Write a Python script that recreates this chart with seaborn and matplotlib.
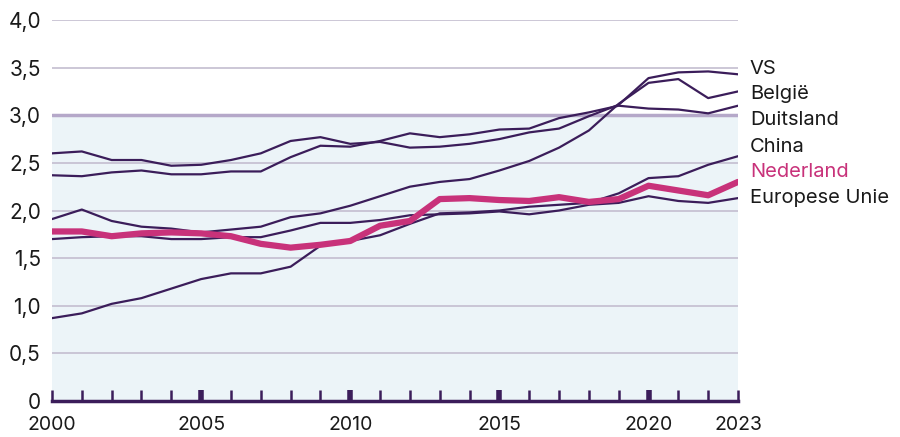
import numpy as np
import pandas as pd
import seaborn as sns
import matplotlib
matplotlib.use("Agg")
import matplotlib.pyplot as plt
from matplotlib.ticker import FuncFormatter, MultipleLocator

years = list(range(2000, 2024))
vs = [2.60, 2.62, 2.53, 2.53, 2.47, 2.48, 2.53, 2.60, 2.73, 2.77, 2.70, 2.72,
      2.66, 2.67, 2.70, 2.75, 2.82, 2.86, 2.99, 3.11, 3.39, 3.45, 3.46, 3.43]
belgie = [1.91, 2.01, 1.89, 1.83, 1.81, 1.77, 1.80, 1.83, 1.93, 1.97, 2.05, 2.15,
          2.25, 2.30, 2.33, 2.42, 2.52, 2.66, 2.84, 3.12, 3.34, 3.38, 3.18, 3.25]
duitsland = [2.37, 2.36, 2.40, 2.42, 2.38, 2.38, 2.41, 2.41, 2.56, 2.68, 2.67, 2.73,
             2.81, 2.77, 2.80, 2.85, 2.86, 2.97, 3.03, 3.10, 3.07, 3.06, 3.02, 3.10]
china = [0.87, 0.92, 1.02, 1.08, 1.18, 1.28, 1.34, 1.34, 1.41, 1.63, 1.68, 1.74,
         1.86, 1.97, 1.98, 2.00, 2.04, 2.06, 2.08, 2.18, 2.34, 2.36, 2.48, 2.57]
nederland = [1.78, 1.78, 1.73, 1.76, 1.77, 1.76, 1.73, 1.65, 1.61, 1.64, 1.68, 1.84,
             1.89, 2.12, 2.13, 2.11, 2.10, 2.14, 2.09, 2.12, 2.26, 2.21, 2.16, 2.30]
eu = [1.70, 1.72, 1.73, 1.73, 1.70, 1.70, 1.72, 1.72, 1.79, 1.87, 1.87, 1.90,
      1.95, 1.96, 1.97, 1.99, 1.96, 2.00, 2.06, 2.08, 2.15, 2.10, 2.08, 2.13]

series_names = ["VS", "België", "Duitsland", "China", "Nederland", "Europese Unie"]
series_values = [vs, belgie, duitsland, china, nederland, eu]
label_y = [3.49, 3.22, 2.95, 2.67, 2.40, 2.13]
xtick_labels = [2000, 2005, 2010, 2015, 2020, 2023]

df = pd.DataFrame({"jaar": np.tile(years, len(series_names)),
                   "land": np.repeat(series_names, len(years)),
                   "waarde": np.concatenate(series_values)})

sns.set_theme(style="white")
plt.rcParams["font.family"] = ["Inter", "DejaVu Sans"]

dark = "#3b1d5a"
pink = "#c8327a"
grid_c = "#c4bdd0"

fig = plt.figure(figsize=(9, 4.37), dpi=100)
ax = fig.add_axes([52/900, 36/437, (738-52)/900, (401-20)/437])
ax.set_xlim(2000, 2023)
ax.set_ylim(0, 4)

# light blue band from 0 to 3
ax.axhspan(0, 3.0, color="#ecf4f8", zorder=0, lw=0)
for v in [0.5, 1.0, 1.5, 2.0, 2.5, 3.5, 4.0]:
    ax.axhline(v, color=grid_c, lw=1.2, zorder=1)
ax.axhline(3.0, color="#b5a8c9", lw=2.5, zorder=1)

palette = {n: (pink if n == "Nederland" else dark) for n in series_names}
others = df[df.land != "Nederland"]
sns.lineplot(data=others, x="jaar", y="waarde", hue="land", palette=palette,
             linewidth=1.6, legend=False, ax=ax, zorder=3)
sns.lineplot(data=df[df.land == "Nederland"], x="jaar", y="waarde", color=pink,
             linewidth=4.5, legend=False, ax=ax, zorder=4)

for name, ly in zip(series_names, label_y):
    ax.text(2023.4, ly, name, fontsize=14.5, va="center", ha="left",
            color=(pink if name == "Nederland" else "#1a1a1a"), clip_on=False)

for s in ["top", "right", "left"]:
    ax.spines[s].set_visible(False)
ax.spines["bottom"].set_color(dark)
ax.spines["bottom"].set_linewidth(2.5)

ax.set_xticks(xtick_labels)
ax.set_xticklabels([str(y) for y in xtick_labels])
ax.set_xticks(years, minor=True)
ax.tick_params(axis="x", which="major", direction="in", length=8, width=4,
               color=dark, labelsize=14, pad=11, bottom=True)
ax.tick_params(axis="x", which="minor", direction="in", length=8, width=1.8,
               color=dark, bottom=True)
for tick in ax.xaxis.get_major_ticks():
    if tick.get_loc() in (2000, 2023):
        tick.tick1line.set_markeredgewidth(1.8)
ax.yaxis.set_major_locator(MultipleLocator(0.5))
ax.yaxis.set_major_formatter(FuncFormatter(
    lambda v, p: "0" if v == 0 else f"{v:.1f}".replace(".", ",")))
ax.tick_params(axis="y", length=0, labelsize=15, pad=8, left=False)
for lab in ax.get_xticklabels() + ax.get_yticklabels():
    lab.set_color("#1a1a1a")
ax.set_xlabel("")
ax.set_ylabel("")

fig.savefig("out.png", dpi=100)
